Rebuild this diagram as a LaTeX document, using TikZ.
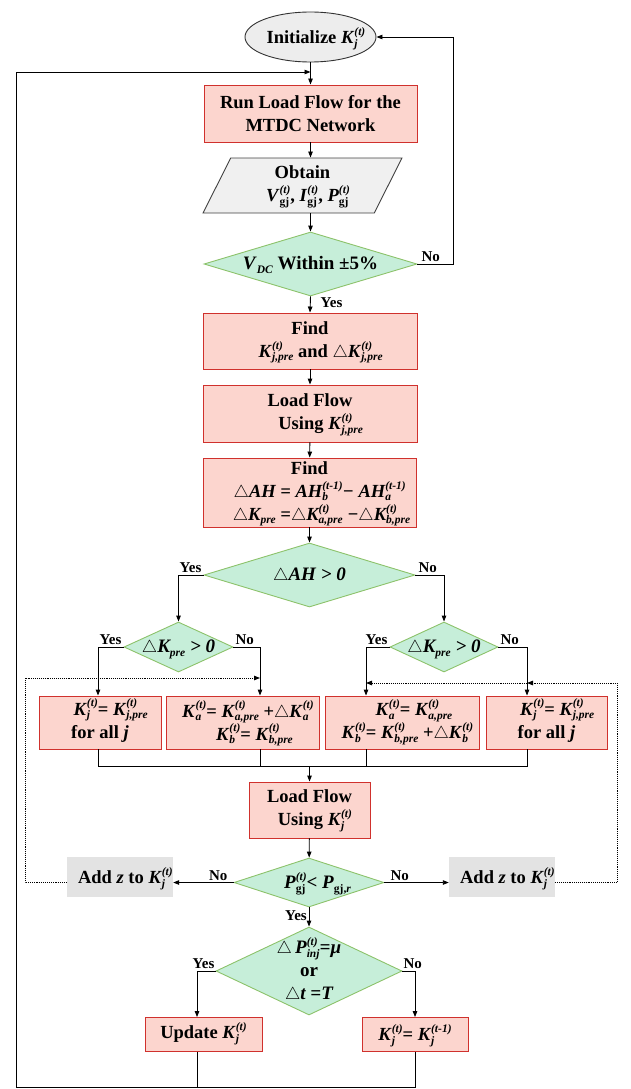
\documentclass[tikz,border=0pt]{standalone}
\usepackage{fontspec}
\setmainfont{Liberation Serif}
\usetikzlibrary{shapes.geometric,arrows.meta,calc}

\definecolor{boxfill}{HTML}{FCD5CE}
\definecolor{boxline}{HTML}{D0312D}
\definecolor{decfill}{HTML}{C6EED9}
\definecolor{decline}{HTML}{8CC26A}
\definecolor{initfill}{HTML}{EDEDED}
\definecolor{iofill}{HTML}{F0F0F0}
\definecolor{addfill}{HTML}{E3E3E3}

% stacked superscript/subscript that does not change the line height
\newsavebox\supbox
\newsavebox\subbox
\newlength\scrw
\newcommand\scr{\fontsize{11.5}{12}\selectfont}
\newcommand\supsub[3]{%
  \sbox\supbox{\scr\itshape #2}%
  \sbox\subbox{\scr #1#3}%
  \ifdim\wd\supbox>\wd\subbox \setlength\scrw{\wd\supbox}\else\setlength\scrw{\wd\subbox}\fi
  \smash{\rlap{\raisebox{0.44em}{\usebox\supbox}}\rlap{\raisebox{-0.2em}{\usebox\subbox}}}%
  \hspace{\scrw}}
% symbol with italic scripts / with upright subscript
\newcommand\K[3]{\textit{#1}\supsub{\itshape}{#2}{#3}}
\newcommand\Ku[3]{\textit{#1}\supsub{\upshape}{#2}{#3}}
\newcommand\tri{\ensuremath{\triangle}}
% zero-size text so that a diamond keeps its given size
\newcommand\dtext[1]{\makebox[0pt]{\raisebox{-0.3em}[0pt][0pt]{\begin{tabular}{@{}c@{}}#1\end{tabular}}}}
\newcommand\bigtext{\bfseries\fontsize{18.5}{23}\selectfont}

\begin{document}
\begin{tikzpicture}[x=1pt,y=-1pt,
  proc/.style={draw=boxline, fill=boxfill, line width=0.9pt, inner sep=0pt,
    align=center, font=\bigtext},
  dec/.style={diamond, draw=decline, fill=decfill, line width=0.9pt, inner sep=0pt,
    font=\bfseries\fontsize{19}{23}\selectfont},
  addbox/.style={fill=addfill, inner sep=0pt, minimum width=106pt, minimum height=40pt,
    font=\bigtext},
  lab/.style={font=\bfseries\fontsize{15}{17}\selectfont, inner sep=1pt},
  link/.style={line width=0.9pt, black},
  ar/.style={link, -{Triangle[length=6pt,width=4.5pt]}},
  fb/.style={line width=0.9pt, densely dotted}
]
\useasboundingbox (0,0) rectangle (630,1089);

% ---- main column ----
\node[ellipse, draw=black!80, fill=initfill, line width=0.9pt, inner sep=0pt,
  minimum width=131pt, minimum height=50pt, font=\bigtext]
  (init) at (310.5,37) {Initialize \K{K}{(t)}{j}};

\node[proc, minimum width=213pt, minimum height=57pt] (run) at (310.5,113.5)
  {Run Load Flow for the\\MTDC Network};

\node[trapezium, trapezium left angle=70, trapezium right angle=110, trapezium stretches=true,
  draw=black!75, fill=iofill, line width=0.9pt, inner sep=0pt, align=center,
  minimum width=199pt, minimum height=55pt, font=\bigtext]
  (obt) at (302.5,185.5)
  {Obtain\\\Ku{V}{(t)}{gj}, \Ku{I}{(t)}{gj}, \Ku{P}{(t)}{gj}};

\node[dec, minimum width=213pt, minimum height=64pt] (vdc) at (310.5,264)
  {\dtext{\K{V}{}{DC} Within ±5\%}};

\node[proc, minimum width=214pt, minimum height=56pt] (find1) at (310,341)
  {Find\\\K{K}{(t)}{j,pre} and \tri\K{K}{(t)}{j,pre}};

\node[proc, minimum width=214pt, minimum height=57pt] (lf1) at (310,413.5)
  {Load Flow\\Using \K{K}{(t)}{j,pre}};

\node[proc, minimum width=213pt, minimum height=69pt] (find2) at (309.5,492.5)
  {Find\\\itshape\tri AH = \K{AH}{(t-1)}{b}− \K{AH}{(t-1)}{a}\\
   \itshape\tri\K{K}{}{pre} =\tri\K{K}{(t)}{a,pre} −\tri\K{K}{(t)}{b,pre}};

\node[dec, minimum width=211pt, minimum height=64pt] (ah) at (309.5,575)
  {\dtext{\itshape\tri AH > 0}};

\node[dec, minimum width=109pt, minimum height=50pt] (kl) at (178.5,647)
  {\dtext{\itshape\tri\K{K}{}{pre} > 0}};
\node[dec, minimum width=108pt, minimum height=50pt] (kr) at (444,647)
  {\dtext{\itshape\tri\K{K}{}{pre} > 0}};

\node[proc, minimum width=122pt, minimum height=53pt] (b1) at (100,722.5)
  {\K{K}{(t)}{j}= \K{K}{(t)}{j,pre}\\for all \textit{j}};
\node[proc, minimum width=153pt, minimum height=53pt] (b2) at (242.5,722.5)
  {\K{K}{(t)}{a}= \K{K}{(t)}{a,pre} +\tri\K{K}{(t)}{a}\\\K{K}{(t)}{b}= \K{K}{(t)}{b,pre}};
\node[proc, minimum width=154pt, minimum height=53pt] (b3) at (402,722.5)
  {\K{K}{(t)}{a}= \K{K}{(t)}{a,pre}\\\K{K}{(t)}{b}= \K{K}{(t)}{b,pre} +\tri\K{K}{(t)}{b}};
\node[proc, minimum width=121pt, minimum height=53pt] (b4) at (546.5,722.5)
  {\K{K}{(t)}{j}= \K{K}{(t)}{j,pre}\\for all \textit{j}};

\node[proc, minimum width=121pt, minimum height=56pt] (lf2) at (309.5,810)
  {Load Flow\\Using \K{K}{(t)}{j}};

\node[dec, minimum width=150pt, minimum height=49pt] (pg) at (309,882.5)
  {\dtext{\Ku{P}{(t)}{gj}< \Ku{P}{}{gj,\textit{r}}}};

\node[addbox] (addL) at (120,877) {Add \textit{z} to \K{K}{(t)}{j}};
\node[addbox] (addR) at (502,877) {Add \textit{z} to \K{K}{(t)}{j}};

\node[dec, minimum width=186pt, minimum height=88pt] (dt) at (309,971)
  {\dtext{\itshape\tri\,\K{P}{(t)}{inj}=\textmu\\\upshape or\\\itshape\tri\textit{t} =\textit{T}}};

\node[proc, minimum width=117pt, minimum height=34pt] (upd) at (203.5,1034.5)
  {Update \K{K}{(t)}{j}};
\node[proc, minimum width=106pt, minimum height=34pt] (kk) at (415,1034.5)
  {\K{K}{(t)}{j}= \K{K}{(t-1)}{j}};

% ---- helper coordinates for the routed connectors ----
\coordinate (rr) at (453,0);
\coordinate (ll) at (16,0);
\coordinate (bot) at (0,1087);
\coordinate (top) at (0,72);
\coordinate (mid) at (0,766);
\coordinate (xb1) at (98,0);
\coordinate (xb2) at (260,0);
\coordinate (xb3) at (366,0);
\coordinate (xb4) at (527,0);
\coordinate (xu) at (197,0);
\coordinate (dl) at (25,678);
\coordinate (dr) at (617,683);

% ---- connectors ----
\draw[ar] (init) -- (run);
\draw[ar] (run.south) -- (run.south |- obt.north);
\draw[ar] (run.south |- obt.south) -- (vdc.north);
\draw[ar] (vdc.south) -- (find1.north);
\node[lab, anchor=west] at ($(vdc.south)+(9,6)$) {Yes};
\draw[ar] (vdc.east) -- (vdc.east -| rr) -- (rr |- init.east) -- (init.east);
\node[lab, anchor=south west] at ($(vdc.east)+(3,-1)$) {No};

\draw[ar] (find1) -- (lf1);
\draw[ar] (lf1) -- (find2);
\draw[ar] (find2) -- (ah);

\draw[ar] (ah.west) -| (kl.north);
\node[lab, anchor=south east] at ($(ah.west)+(-1,-1)$) {Yes};
\draw[ar] (ah.east) -| (kr.north);
\node[lab, anchor=south west] at ($(ah.east)+(2,-1)$) {No};

\draw[ar] (kl.west) -| (xb1 |- b1.north);
\node[lab, anchor=south east] at ($(kl.west)+(-1,-1)$) {Yes};
\draw[ar] (kl.east) -| (xb2 |- b2.north);
\node[lab, anchor=south west] at ($(kl.east)+(1,-1)$) {No};
\draw[ar] (kr.west) -| (xb3 |- b3.north);
\node[lab, anchor=south east] at ($(kr.west)+(-1,-1)$) {Yes};
\draw[ar] (kr.east) -| (xb4 |- b4.north);
\node[lab, anchor=south west] at ($(kr.east)+(1,-1)$) {No};

\draw[link] (xb1 |- b1.south) -- (xb1 |- mid) -- (xb4 |- mid) -- (xb4 |- b4.south);
\draw[link] (xb2 |- b2.south) -- (xb2 |- mid);
\draw[link] (xb3 |- b3.south) -- (xb3 |- mid);
\draw[ar] (lf2.north |- mid) -- (lf2.north);

\draw[ar] (lf2) -- (pg);
\draw[ar] (pg.west) -- (pg.west -| addL.east);
\node[lab, anchor=south east] at ($(pg.west)+(-5,-1)$) {No};
\draw[ar] (pg.east) -- (pg.east -| addR.west);
\node[lab, anchor=south west] at ($(pg.east)+(5,-1)$) {No};
\draw[ar] (pg.south) -- (dt.north);
\node[lab, anchor=east] at ($(pg.south)+(-1,8)$) {Yes};

% feedback of the step z
\draw[fb, -{Triangle[length=6pt,width=4.5pt]}] (addL.west |- pg.west) -| (dl) -- (dl -| xb2);
\draw[fb, -{Triangle[length=6pt,width=4.5pt]}] (addR.east |- pg.east) -| (dr) -- (dr -| xb4);
\draw[fb, -{Triangle[length=6pt,width=4.5pt]}] (dr -| xb4) -- (dr -| xb3);

\draw[ar] (dt.west) -| (xu |- upd.north);
\node[lab, anchor=south east] at ($(dt.west)+(0,-1)$) {Yes};
\draw[ar] (dt.east) -| (kk.north);
\node[lab, anchor=south west] at ($(dt.east)+(0,-1)$) {No};

% return to the load flow
\draw[link] (xu |- upd.south) -- (xu |- bot);
\draw[ar] (kk.south) -- (kk.south |- bot) -- (ll |- bot) -- (ll |- top) -- (top -| run.north);
\end{tikzpicture}
\end{document}
